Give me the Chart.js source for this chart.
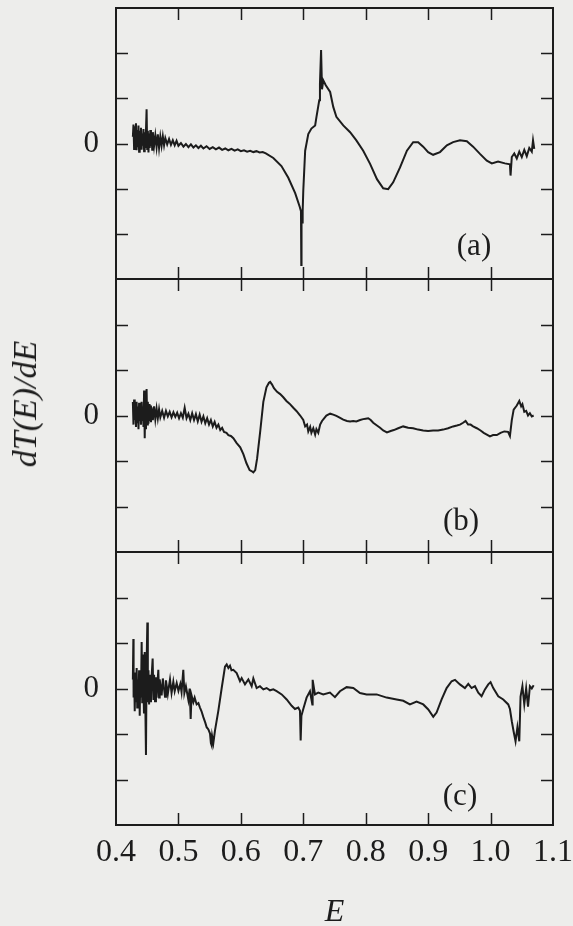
<!DOCTYPE html>
<html>
<head>
<meta charset="utf-8">
<title>dT(E)/dE</title>
<script src="https://cdn.jsdelivr.net/npm/chart.js@4.4.0/dist/chart.umd.min.js"></script>
<style>
  html, body { margin: 0; padding: 0; background: #ededeb; }
  #wrap { position: relative; width: 573px; height: 926px; overflow: hidden; }
  #wrap canvas { position: absolute; left: 0; top: 0; }
  #ytitle {
    position: absolute; left: 25px; top: 404px;
    transform: translate(-50%, -50%) rotate(-90deg);
    font: italic 34px "Liberation Serif", "Times New Roman", serif;
    color: #1c1c1c; white-space: nowrap; line-height: 1;
  }
</style>
</head>
<body>
<div id="wrap">
  <canvas id="panelA" width="573" height="926"></canvas>
  <canvas id="panelB" width="573" height="926"></canvas>
  <canvas id="panelC" width="573" height="926"></canvas>
  <div id="ytitle">dT(E)/dE</div>
</div>
<script>
// x axis
const xMin = 0.4, xMax = 1.1, xStep = 0.1;
const yMin = -3, yMax = 3;

// panel (a)
const energyA = [0.427,0.428,0.429,0.430,0.431,0.432,0.433,0.434,0.435,0.436,0.437,0.438,0.439,0.440,0.441,0.442,0.443,0.444,0.445,0.446,0.447,0.448,0.449,0.450,0.451,0.452,0.453,0.454,0.455,0.456,0.457,0.458,0.459,0.461,0.463,0.465,0.467,0.469,0.471,0.473,0.475,0.477,0.479,0.482,0.485,0.488,0.491,0.494,0.497,0.500,0.504,0.508,0.512,0.516,0.520,0.524,0.528,0.532,0.536,0.540,0.545,0.550,0.555,0.560,0.565,0.570,0.575,0.580,0.585,0.590,0.595,0.600,0.605,0.610,0.615,0.620,0.625,0.630,0.635,0.640,0.652,0.665,0.676,0.687,0.694,0.6963,0.6968,0.6972,0.698,0.699,0.700,0.703,0.708,0.713,0.719,0.721,0.7256,0.7267,0.7285,0.730,0.732,0.736,0.743,0.748,0.753,0.764,0.775,0.785,0.796,0.807,0.818,0.828,0.836,0.844,0.855,0.866,0.876,0.884,0.892,0.900,0.908,0.919,0.930,0.940,0.951,0.962,0.972,0.983,0.994,1.002,1.012,1.023,1.031,1.032,1.034,1.038,1.042,1.046,1.050,1.054,1.058,1.062,1.066,1.068,1.070];
const slopeA = [0.15,0.42,-0.12,0.38,-0.05,0.45,-0.15,0.3,-0.08,0.4,-0.18,0.28,-0.1,0.35,-0.14,0.22,-0.05,0.32,-0.17,0.25,-0.08,0.3,0.76,-0.12,0.28,-0.2,0.22,-0.1,0.3,-0.06,0.2,-0.14,0.25,-0.05,0.18,-0.08,0.2,-0.1,0.15,-0.05,0.16,-0.04,0.12,-0.02,0.1,-0.03,0.07,-0.04,0.06,-0.05,0.01,-0.07,-0.01,-0.08,-0.02,-0.09,-0.04,-0.1,-0.05,-0.11,-0.06,-0.12,-0.08,-0.13,-0.09,-0.14,-0.11,-0.15,-0.12,-0.16,-0.13,-0.17,-0.15,-0.18,-0.16,-0.19,-0.17,-0.2,-0.19,-0.22,-0.32,-0.5,-0.76,-1.1,-1.39,-1.5,-2.69,-1.6,-1.75,-1.5,-1.04,-0.16,0.21,0.33,0.4,0.58,0.96,1.33,2.07,1.2,1.4,1.29,1.14,0.81,0.59,0.4,0.25,0.07,-0.16,-0.45,-0.79,-0.99,-1.01,-0.86,-0.53,-0.16,0.03,0.03,-0.07,-0.19,-0.25,-0.19,-0.04,0.03,0.07,0.05,-0.07,-0.23,-0.38,-0.44,-0.4,-0.44,-0.46,-0.71,-0.3,-0.22,-0.33,-0.18,-0.3,-0.14,-0.28,-0.1,-0.18,0.07,-0.12];

// panel (b)
const energyB = [0.427,0.428,0.429,0.430,0.431,0.432,0.433,0.434,0.435,0.436,0.437,0.438,0.439,0.440,0.441,0.442,0.443,0.444,0.445,0.446,0.447,0.448,0.449,0.450,0.451,0.452,0.453,0.454,0.455,0.456,0.457,0.459,0.461,0.463,0.465,0.467,0.469,0.471,0.474,0.477,0.480,0.483,0.486,0.489,0.492,0.495,0.498,0.501,0.504,0.507,0.510,0.513,0.516,0.519,0.522,0.525,0.528,0.531,0.534,0.537,0.540,0.543,0.546,0.549,0.552,0.555,0.558,0.561,0.564,0.567,0.570,0.573,0.577,0.580,0.584,0.588,0.593,0.599,0.604,0.609,0.614,0.617,0.620,0.623,0.626,0.631,0.636,0.641,0.645,0.647,0.650,0.653,0.658,0.663,0.668,0.673,0.678,0.684,0.689,0.695,0.700,0.703,0.706,0.708,0.711,0.713,0.716,0.719,0.721,0.724,0.727,0.730,0.734,0.737,0.743,0.748,0.753,0.759,0.764,0.770,0.775,0.780,0.785,0.791,0.796,0.800,0.804,0.808,0.812,0.818,0.823,0.828,0.834,0.840,0.845,0.852,0.860,0.868,0.876,0.884,0.892,0.900,0.908,0.916,0.924,0.932,0.940,0.946,0.951,0.956,0.960,0.964,0.968,0.972,0.978,0.984,0.989,0.994,0.999,1.004,1.010,1.016,1.022,1.028,1.031,1.034,1.037,1.042,1.046,1.049,1.051,1.054,1.057,1.060,1.063,1.066,1.069];
const slopeB = [0.3,-0.2,0.35,-0.1,0.25,-0.25,0.3,-0.15,0.2,-0.3,0.28,-0.12,0.22,-0.2,0.3,-0.1,0.2,-0.25,0.55,-0.5,0.4,-0.3,0.58,-0.2,0.3,-0.18,0.25,-0.12,0.22,-0.15,0.18,-0.1,0.2,-0.08,0.15,-0.06,0.14,-0.04,0.1,-0.05,0.1,-0.02,0.08,-0.04,0.07,-0.03,0.06,-0.06,0.05,-0.05,0.17,-0.06,0.04,-0.1,0.05,-0.1,0.03,-0.13,0.02,-0.14,-0.02,-0.17,-0.06,-0.2,-0.1,-0.24,-0.14,-0.27,-0.2,-0.32,-0.27,-0.36,-0.38,-0.43,-0.45,-0.5,-0.6,-0.7,-0.85,-1.05,-1.2,-1.22,-1.25,-1.2,-0.95,-0.35,0.3,0.62,0.72,0.74,0.68,0.6,0.52,0.47,0.4,0.32,0.26,0.17,0.1,0.0,-0.1,-0.24,-0.2,-0.35,-0.25,-0.38,-0.28,-0.42,-0.3,-0.38,-0.2,-0.12,-0.05,0.0,0.04,0.02,-0.01,-0.05,-0.09,-0.12,-0.13,-0.12,-0.13,-0.1,-0.08,-0.07,-0.06,-0.1,-0.16,-0.22,-0.27,-0.33,-0.37,-0.34,-0.32,-0.28,-0.24,-0.27,-0.28,-0.31,-0.33,-0.34,-0.33,-0.33,-0.31,-0.28,-0.24,-0.22,-0.2,-0.16,-0.12,-0.2,-0.2,-0.24,-0.28,-0.33,-0.38,-0.42,-0.46,-0.43,-0.43,-0.38,-0.35,-0.36,-0.45,-0.1,0.13,0.22,0.32,0.2,0.25,0.08,0.1,0.0,0.05,-0.02,0.0];

// panel (c)
const energyC = [0.427,0.4278,0.4282,0.429,0.430,0.431,0.432,0.4331,0.434,0.435,0.436,0.437,0.438,0.439,0.440,0.4411,0.442,0.443,0.4448,0.446,0.447,0.448,0.449,0.4502,0.451,0.452,0.453,0.4545,0.456,0.457,0.4587,0.460,0.461,0.4625,0.464,0.465,0.4678,0.469,0.470,0.4731,0.475,0.4785,0.480,0.483,0.4865,0.489,0.4918,0.494,0.4972,0.500,0.503,0.505,0.5078,0.5095,0.512,0.5159,0.518,0.5196,0.521,0.5239,0.526,0.5292,0.532,0.5345,0.537,0.5399,0.543,0.5452,0.548,0.5506,0.552,0.5532,0.554,0.5559,0.5586,0.5639,0.5692,0.5746,0.5773,0.580,0.5826,0.585,0.5879,0.5933,0.5986,0.6013,0.6066,0.612,0.6173,0.620,0.6253,0.6306,0.636,0.6413,0.6467,0.652,0.6573,0.6654,0.6734,0.6814,0.6867,0.692,0.6947,0.6958,0.697,0.700,0.7053,0.7107,0.7145,0.715,0.7187,0.724,0.732,0.7427,0.7507,0.7587,0.7694,0.7801,0.7908,0.8014,0.8175,0.8335,0.8495,0.8602,0.8708,0.8815,0.8922,0.9002,0.9082,0.9135,0.9216,0.9296,0.9376,0.943,0.9509,0.9589,0.9643,0.9696,0.975,0.9803,0.9856,0.991,0.9963,1.000,1.0043,1.0123,1.0203,1.0283,1.031,1.034,1.037,1.040,1.043,1.046,1.048,1.051,1.054,1.057,1.060,1.063,1.066,1.069];
const slopeC = [0.2,1.09,-0.2,0.35,-0.5,0.3,-0.3,0.45,-0.42,0.2,-0.25,0.4,-0.6,0.35,-0.2,1.02,-0.3,0.75,-0.55,0.8,-0.4,-1.46,0.5,1.45,-0.3,0.4,-0.35,0.3,-0.3,0.25,0.66,-0.25,0.3,-0.28,0.25,-0.2,0.41,-0.2,0.2,-0.15,0.22,-0.18,0.18,-0.12,0.2,-0.1,0.15,-0.06,0.12,-0.05,0.1,-0.08,0.41,-0.1,0.05,-0.25,0.0,-0.67,-0.15,-0.3,-0.2,-0.35,-0.32,-0.42,-0.5,-0.63,-0.75,-0.85,-0.9,-0.99,-1.2,-1.25,-1.05,-1.2,-0.92,-0.49,0.0,0.48,0.53,0.45,0.5,0.4,0.41,0.34,0.16,0.23,0.09,0.2,0.05,0.22,0.01,0.05,-0.02,0.01,-0.04,-0.02,-0.06,-0.13,-0.24,-0.38,-0.45,-0.42,-0.49,-1.14,-0.6,-0.45,-0.2,-0.06,-0.35,0.19,-0.13,-0.09,-0.13,-0.09,-0.19,-0.06,0.03,0.01,-0.1,-0.13,-0.13,-0.2,-0.24,-0.27,-0.35,-0.29,-0.35,-0.46,-0.62,-0.53,-0.24,0.01,0.16,0.19,0.09,0.01,0.1,0.01,0.05,-0.09,-0.17,-0.02,0.09,0.14,0.01,-0.17,-0.24,-0.35,-0.45,-0.72,-0.95,-1.16,-0.85,-1.16,-0.18,0.05,-0.35,0.0,-0.4,0.05,0.0,0.07];

const ink = '#1c1c1c';
const serif = '"Liberation Serif", "Times New Roman", serif';

// box, inward ticks and the panel letter
const framePlugin = {
  id: 'frame',
  afterDatasetsDraw(chart, args, opts) {
    const { ctx, chartArea: a, scales: { x, y } } = chart;
    ctx.save();
    ctx.strokeStyle = ink;
    ctx.lineWidth = 1.5;
    ctx.beginPath();
    x.ticks.forEach(t => {
      if (t.value <= x.min + 1e-9 || t.value >= x.max - 1e-9) return;
      const px = Math.round(x.getPixelForValue(t.value)) + 0.5;
      ctx.moveTo(px, a.top); ctx.lineTo(px, a.top + 12);
      ctx.moveTo(px, a.bottom); ctx.lineTo(px, a.bottom - 12);
    });
    y.ticks.forEach(t => {
      if (t.value <= y.min || t.value >= y.max) return;
      const py = Math.round(y.getPixelForValue(t.value)) + 0.5;
      ctx.moveTo(a.left, py); ctx.lineTo(a.left + 12, py);
      ctx.moveTo(a.right, py); ctx.lineTo(a.right - 12, py);
    });
    ctx.stroke();
    ctx.lineWidth = 2;
    ctx.strokeRect(a.left, a.top, a.right - a.left, a.bottom - a.top);
    ctx.fillStyle = ink;
    ctx.font = '31px ' + serif;
    ctx.textAlign = 'center';
    ctx.textBaseline = 'middle';
    ctx.fillText(opts.text, opts.x, opts.y);
    ctx.restore();
  }
};

function makePanel(id, energy, slope, cfg) {
  const points = energy.map((e, i) => ({ x: e, y: slope[i] }));
  return new Chart(document.getElementById(id), {
    type: 'line',
    data: {
      datasets: [{
        data: points,
        borderColor: ink,
        borderWidth: 2,
        pointRadius: 0,
        tension: 0,
        fill: false
      }]
    },
    options: {
      responsive: false,
      animation: false,
      events: [],
      layout: { padding: { top: cfg.top, bottom: cfg.bottom, left: 0, right: 20 } },
      plugins: {
        legend: { display: false },
        tooltip: { enabled: false },
        frame: cfg.label
      },
      scales: {
        x: {
          type: 'linear',
          min: xMin,
          max: xMax,
          grid: { display: false },
          border: { display: false },
          ticks: {
            display: cfg.showX,
            stepSize: xStep,
            autoSkip: false,
            maxRotation: 0,
            padding: 0,
            color: ink,
            font: { family: serif, size: 32 },
            callback: v => v.toFixed(1)
          },
          title: {
            display: cfg.showX,
            text: 'E',
            color: ink,
            font: { family: serif, size: 32, style: 'italic', lineHeight: 1 },
            padding: { top: 0, bottom: -3 }
          },
          afterFit: s => {
            s.height = cfg.xHeight;
            s.paddingLeft = 0;
            s.paddingRight = 0;
          }
        },
        y: {
          min: yMin,
          max: yMax,
          grid: { display: false },
          border: { display: false },
          ticks: {
            stepSize: 1,
            padding: 9,
            color: ink,
            font: { family: serif, size: 31 },
            callback: v => (v === 0 ? '0' : '')
          },
          afterFit: s => {
            s.width = 116;
            s.paddingTop = 0;
            s.paddingBottom = 0;
          }
        }
      }
    },
    plugins: [framePlugin]
  });
}

makePanel('panelA', energyA, slopeA, {
  top: 8, bottom: 647, xHeight: 0, showX: false,
  label: { text: '(a)', x: 474, y: 247 }
});
makePanel('panelB', energyB, slopeB, {
  top: 279, bottom: 374, xHeight: 0, showX: false,
  label: { text: '(b)', x: 461, y: 522 }
});
makePanel('panelC', energyC, slopeC, {
  top: 552, bottom: 0, xHeight: 101, showX: true,
  label: { text: '(c)', x: 460, y: 797 }
});
</script>
</body>
</html>
